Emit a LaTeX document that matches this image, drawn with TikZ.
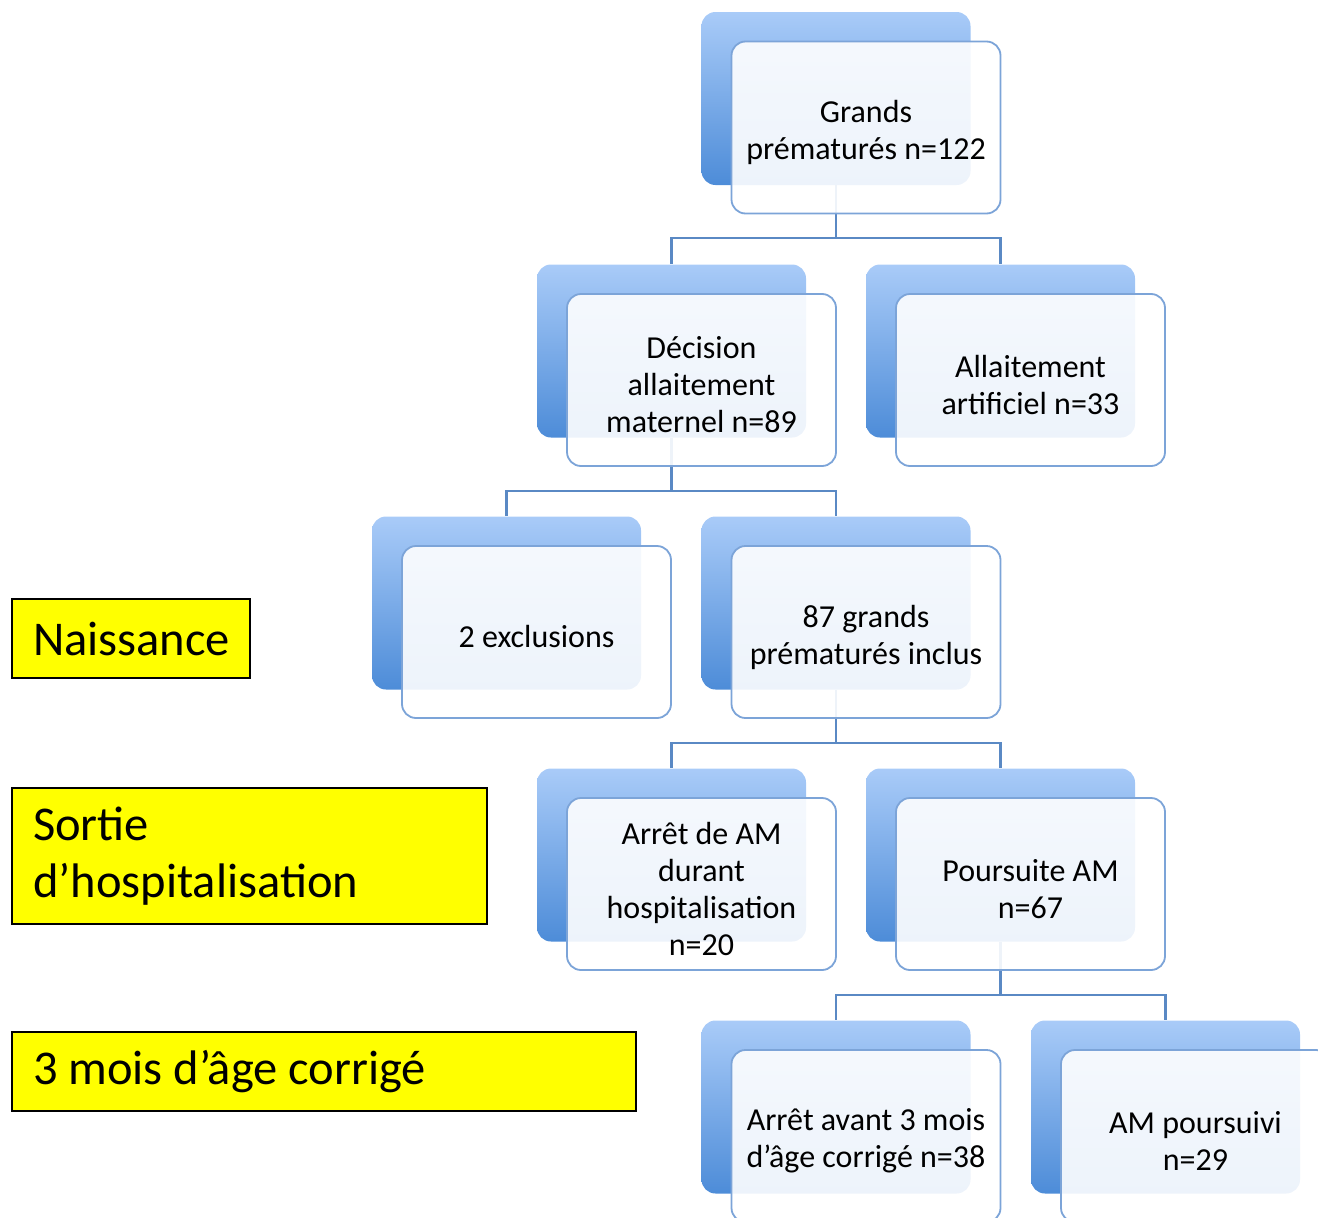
\documentclass[tikz,border=0pt]{standalone}
\usepackage{fontspec}
\setmainfont{Carlito}
\usetikzlibrary{backgrounds}
\definecolor{connc}{HTML}{5A89C4}
\definecolor{btop}{HTML}{A9CBF8}
\definecolor{bbot}{HTML}{4D8CD8}
\definecolor{fborder}{HTML}{7CA4D8}
\definecolor{ylw}{HTML}{FFFF00}
\tikzset{
  backbox/.style={rectangle, rounded corners=14pt, minimum width=269pt, minimum height=173pt,
    top color=btop, bottom color=bbot, draw=none, inner sep=0pt},
  frontbox/.style={rectangle, rounded corners=14pt, minimum width=269pt, minimum height=172pt,
    fill=white, fill opacity=0.9, draw=fborder, line width=1.8pt, inner sep=0pt},
  boxtext/.style={align=flush center, font=\fontsize{32}{37}\selectfont, inner sep=0pt},
  connector/.style={draw=connc, line width=2.2pt},
  ylabel/.style={rectangle, draw=black, line width=1.5pt, fill=ylw, align=flush left,
    inner xsep=21pt, inner ysep=0pt, font=\fontsize{48.5}{57}\selectfont}
}
\newcommand\orgbox[4]{%
  \node[backbox] (#1) at (#2,#3) {};
  \node[frontbox] (#1f) at (#2+30,#3-29) {};
  \node[boxtext] (#1t) at (#2+30,#3-34) {#4};
}
\begin{document}
\begin{tikzpicture}[x=1pt,y=1pt]
\useasboundingbox (0,0) rectangle (1318,-1218);
\clip (0,0) rectangle (1318,-1218);
\orgbox{a}{836}{-98.5}{Grands\\prématurés n=122}
\orgbox{b}{671.5}{-351}{Décision\\allaitement\\maternel n=89}
\orgbox{c}{1000.5}{-351}{Allaitement\\artificiel n=33}
\orgbox{d}{506.5}{-603}{2 exclusions}
\orgbox{e}{836}{-603}{87 grands\\prématurés inclus}
\orgbox{f}{671.5}{-855}{Arrêt de AM\\durant\\hospitalisation\\n=20}
\orgbox{g}{1000.5}{-855}{Poursuite AM\\n=67}
\orgbox{h}{836}{-1107}{Arrêt avant 3 mois\\d’âge corrigé n=38}
\orgbox{i}{1165.5}{-1107}{AM poursuivi\\n=29}
\begin{pgfonlayer}{background}
\draw[connector] (a.south) -- ++(0,-53) -| (b.north);
\draw[connector] (a.south) -- ++(0,-53) -| (c.north);
\draw[connector] (b.south) -- ++(0,-53) -| (d.north);
\draw[connector] (b.south) -- ++(0,-53) -| (e.north);
\draw[connector] (e.south) -- ++(0,-53) -| (f.north);
\draw[connector] (e.south) -- ++(0,-53) -| (g.north);
\draw[connector] (g.south) -- ++(0,-53) -| (h.north);
\draw[connector] (g.south) -- ++(0,-53) -| (i.north);
\end{pgfonlayer}
\node[ylabel, minimum height=79pt, text width=196pt] (naiss) at (131,-638.5) {Naissance};
\node[ylabel, minimum height=136pt, text width=433pt] (sortie) at (249.5,-856) {Sortie\\d’hospitalisation};
\node[ylabel, minimum height=79pt, text width=582pt] (mois) at (324,-1071.5) {3 mois d’âge corrigé};
\end{tikzpicture}
\end{document}
